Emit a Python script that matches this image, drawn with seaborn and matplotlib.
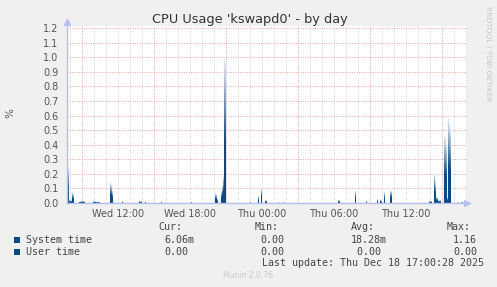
import numpy as np
import pandas as pd
import matplotlib
matplotlib.use("Agg")
import matplotlib.pyplot as plt
import seaborn as sns
from matplotlib.patches import Rectangle
from matplotlib.colors import to_rgb

# ---------------- data ----------------
title = "CPU Usage 'kswapd0' - by day"
sys_times = ["Wed 07:45", "Wed 07:50", "Wed 07:55", "Wed 08:10", "Wed 08:15", "Wed 08:20",
             "Wed 08:45", "Wed 08:55", "Wed 09:10", "Wed 09:15", "Wed 09:55", "Wed 10:10",
             "Wed 10:30", "Wed 11:20", "Wed 11:25", "Wed 11:30", "Wed 11:35", "Wed 12:20",
             "Wed 12:25", "Wed 13:45", "Wed 13:50", "Wed 13:55", "Wed 14:00", "Wed 14:15",
             "Wed 14:20", "Wed 15:35", "Wed 15:40", "Wed 18:05", "Wed 18:10", "Wed 20:05",
             "Wed 20:10", "Wed 20:15", "Wed 20:20", "Wed 20:35", "Wed 20:40", "Wed 20:45",
             "Wed 20:50", "Wed 20:55", "Wed 21:00", "Wed 23:00", "Wed 23:05", "Wed 23:40",
             "Wed 23:45", "Wed 23:55", "Thu 00:00", "Thu 00:15", "Thu 00:25", "Thu 01:20",
             "Thu 01:25", "Thu 01:45", "Thu 01:50", "Thu 06:20", "Thu 06:30", "Thu 07:45",
             "Thu 07:50", "Thu 08:40", "Thu 08:45", "Thu 09:35", "Thu 09:40", "Thu 09:50",
             "Thu 09:55", "Thu 10:00", "Thu 10:10", "Thu 10:15", "Thu 10:40", "Thu 10:50",
             "Thu 13:55", "Thu 14:10", "Thu 14:20", "Thu 14:25", "Thu 14:30", "Thu 14:40",
             "Thu 14:55", "Thu 15:10", "Thu 15:20", "Thu 15:25", "Thu 15:30", "Thu 15:35",
             "Thu 15:40", "Thu 15:45", "Thu 16:20", "Thu 16:25", "Thu 16:35", "Thu 16:45",
             "Thu 17:05"]
sys_values = [1.16, 0.25, 0.02, 0.075, 0.06, 0.0,
              0.01, 0.014, 0.01, 0.0, 0.012, 0.007,
              0.0, 0.138, 0.125, 0.085, 0.0, 0.012,
              0.0, 0.014, 0.008, 0.013, 0.0, 0.008,
              0.0, 0.008, 0.0, 0.006, 0.0, 0.066,
              0.06, 0.03, 0.0, 0.08, 0.12, 0.19,
              1.0, 0.95, 0.0, 0.005, 0.0, 0.048,
              0.0, 0.1, 0.0, 0.02, 0.0, 0.005,
              0.0, 0.005, 0.0, 0.02, 0.0, 0.085,
              0.0, 0.013, 0.0, 0.026, 0.0, 0.025,
              0.015, 0.0, 0.075, 0.0, 0.085, 0.0,
              0.013, 0.0, 0.2, 0.15, 0.04, 0.02,
              0.0, 0.45, 0.4, 0.04, 0.58, 0.55,
              0.5, 0.0, 0.005, 0.0, 0.005, 0.0,
              0.0]

x_tick_hours = [12, 18, 24, 30, 36]
x_tick_labels = ["Wed 12:00", "Wed 18:00", "Thu 00:00", "Thu 06:00", "Thu 12:00"]
major_grid_hours = [9, 15, 21, 27, 33, 39]
y_ticks = [0.0, 0.1, 0.2, 0.3, 0.4, 0.5, 0.6, 0.7, 0.8, 0.9, 1.0, 1.1, 1.2]

legend_names = ["System time", "User time"]
legend_cur = ["6.06m", "0.00"]
legend_min = ["0.00", "0.00"]
legend_avg = ["18.28m", " 0.00"]
legend_max = ["1.16", "0.00"]
last_update = "Last update: Thu Dec 18 17:00:28 2025"

x_start, x_end = 7.75, 7.75 + 400 / 12


def to_hours(s):
    day, hm = s.split()
    h, m = hm.split(":")
    return {"Wed": 0, "Thu": 24}[day] + int(h) + int(m) / 60


df = pd.DataFrame({"t": [to_hours(s) for s in sys_times], "v": sys_values})

# ---------------- figure ----------------
sns.set_style("white")
plt.rcParams["font.family"] = ["DejaVu Sans"]

W, H = 497, 287
fig = plt.figure(figsize=(W / 100, H / 100), dpi=100)
fig.patch.set_facecolor("#f0f0f0")
ax = fig.add_axes([67 / W, 1 - 203.5 / H, 400 / W, 177.5 / H])
ax.set_facecolor("white")
ax.set_xlim(x_start, x_end)
ax.set_ylim(-0.003, 1.214)

grey = "#d2d2d2"
red = "#e6a5a5"
axis_col = "#b7bff0"
dots = (0, (1, 1.4))

# grid
for h in range(8, 42):
    if h in major_grid_hours:
        continue
    ax.axvline(h, color=grey, lw=0.7, ls=dots, zorder=0)
for h in major_grid_hours:
    ax.axvline(h, color=red, lw=0.7, ls=dots, zorder=0)
for y in y_ticks[1:]:
    ax.axhline(y, color=red, lw=0.7, ls=dots, zorder=0)

# gradient area (dark at bottom, fading toward top of each column)
dark = np.array(to_rgb("#0a4a83"))
light = np.array(to_rgb("#dfe8f1"))
n_layers = 14
for k in range(n_layers):
    f = k / (n_layers - 1)
    frac = 1.0 - 0.55 * f
    col = light * (1 - f) + dark * f
    ax.fill_between(df["t"], 0, df["v"] * frac, step="post", color=col, lw=0, zorder=2)
sns.lineplot(data=df, x="t", y="v", drawstyle="steps-post", color=tuple(light), lw=0.3,
             ax=ax, zorder=1)

# axes styling
for s in ["top", "right"]:
    ax.spines[s].set_visible(False)
ax.spines["left"].set_color(axis_col)
ax.spines["bottom"].set_color(axis_col)
ax.spines["left"].set_linewidth(1.0)
ax.spines["bottom"].set_linewidth(1.0)
ax.spines["bottom"].set_position(("data", 0))
ax.plot([1.0], [0.0], marker=">", ms=4, color=axis_col, transform=ax.get_yaxis_transform(),
        clip_on=False, zorder=5)
ax.plot([0.0], [1.0 + 4 / 177.5], marker="^", ms=4, color=axis_col, transform=ax.transAxes,
        clip_on=False, zorder=5)
ax.spines["left"].set_bounds(0, 1.24)

ax.set_xticks(x_tick_hours)
ax.set_xticklabels(x_tick_labels)
ax.set_xticks(list(range(8, 42)), minor=True)
ax.tick_params(axis="x", which="major", length=0, pad=4, labelsize=7, labelcolor="#555555")
ax.tick_params(axis="x", which="minor", length=2, color=grey, width=0.7)
ax.set_yticks(y_ticks)
ax.set_yticklabels([f"{y:.1f}" for y in y_ticks])
ax.tick_params(axis="y", length=2, color=red, width=0.7, pad=4, labelsize=7,
               labelcolor="#555555")
ax.set_xlabel("")
ax.set_ylabel("")

# texts
fig.text(0.502, 1 - 19 / H, title, ha="center", va="center", fontsize=9.3, color="#333333")
fig.text(10 / W, 1 - 113 / H, "%", ha="center", va="center", rotation=90, fontsize=7.5,
         color="#555555")
fig.text(488 / W, 1 - 54 / H, "RRDTOOL / TOBI OETIKER", ha="center", va="center",
         rotation=270, fontsize=5.4, color="#c4c4c4")
fig.text(248 / W, 1 - 276 / H, "Munin 2.0.76", ha="center", va="center", fontsize=5.5,
         color="#c8c8c8")

mono = dict(family="DejaVu Sans Mono", fontsize=7.2, color="#444444", va="center", ha="left")
fig.text(158 / W, 1 - 227.5 / H, "Cur:", **mono)
fig.text(255 / W, 1 - 227.5 / H, "Min:", **mono)
fig.text(351 / W, 1 - 227.5 / H, "Avg:", **mono)
fig.text(447 / W, 1 - 227.5 / H, "Max:", **mono)
row_y = [240, 252]
for i in range(2):
    yy = 1 - row_y[i] / H
    fig.patches.append(Rectangle((14 / W, yy - 3 / H), 6 / W, 6 / H, transform=fig.transFigure,
                                 facecolor="#0a4a83", edgecolor="none"))
    fig.text(26 / W, yy, legend_names[i], **mono)
    fig.text(164 / W, yy, legend_cur[i], **mono)
    fig.text(260 / W, yy, legend_min[i], **mono)
    fig.text(351 / W, yy, legend_avg[i], **mono)
    fig.text(453 / W, yy, legend_max[i], **mono)
fig.text(262 / W, 1 - 263.5 / H, last_update, **mono)

fig.savefig("out.png", dpi=100, facecolor=fig.get_facecolor())
